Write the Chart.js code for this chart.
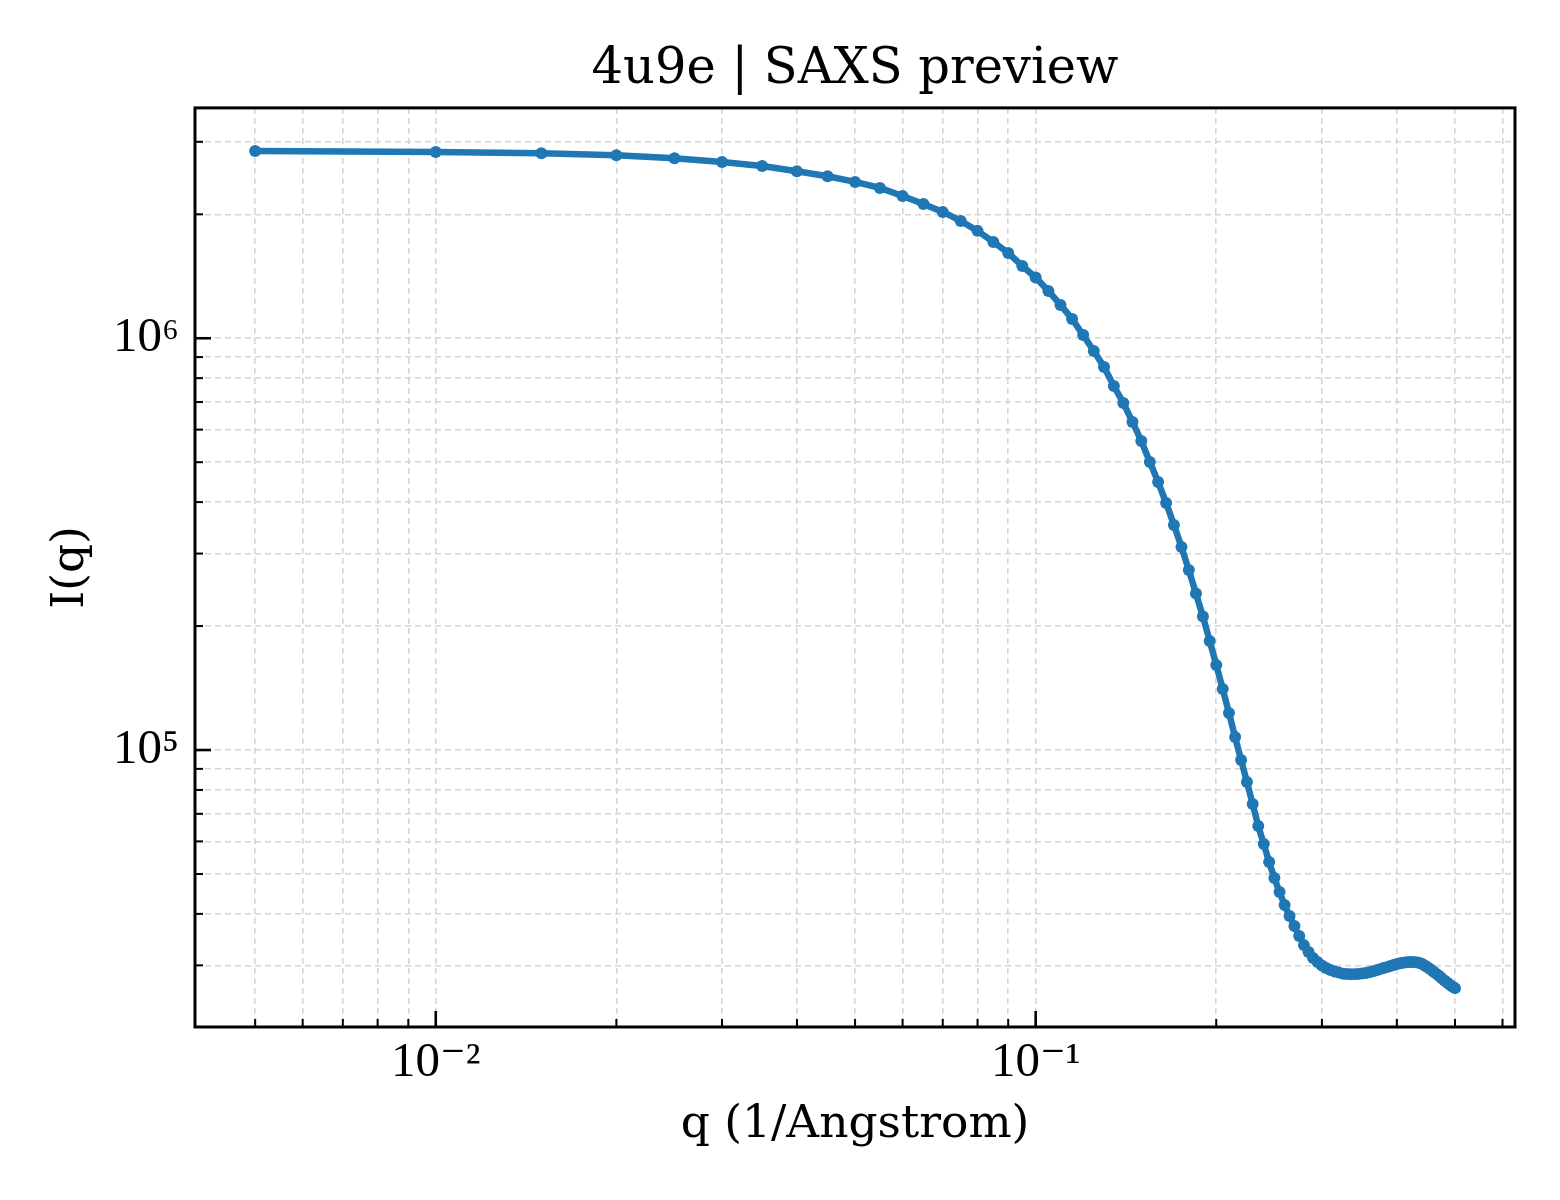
<!DOCTYPE html>
<html>
<head>
<meta charset="utf-8">
<script src="https://cdn.jsdelivr.net/npm/chart.js@4.4.0/dist/chart.umd.min.js"></script>
<style>
  html, body { margin: 0; padding: 0; background: #fff; }
  canvas { display: block; }
</style>
</head>
<body>
<canvas id="saxs" width="1560" height="1200"></canvas>
<script>
const qValues = [
  0.005, 0.010, 0.015, 0.020, 0.025, 0.030, 0.035, 0.040, 0.045, 0.050,
  0.055, 0.060, 0.065, 0.070, 0.075, 0.080, 0.085, 0.090, 0.095, 0.100,
  0.105, 0.110, 0.115, 0.120, 0.125, 0.130, 0.135, 0.140, 0.145, 0.150,
  0.155, 0.160, 0.165, 0.170, 0.175, 0.180, 0.185, 0.190, 0.195, 0.200,
  0.205, 0.210, 0.215, 0.220, 0.225, 0.230, 0.235, 0.240, 0.245, 0.250,
  0.255, 0.260, 0.265, 0.270, 0.275, 0.280, 0.285, 0.290, 0.295, 0.300,
  0.305, 0.310, 0.315, 0.320, 0.325, 0.330, 0.335, 0.340, 0.345, 0.350,
  0.355, 0.360, 0.365, 0.370, 0.375, 0.380, 0.385, 0.390, 0.395, 0.400,
  0.405, 0.410, 0.415, 0.420, 0.425, 0.430, 0.435, 0.440, 0.445, 0.450,
  0.455, 0.460, 0.465, 0.470, 0.475, 0.480, 0.485, 0.490, 0.495, 0.500
];
const intensity = [
  2850000, 2835000, 2814000, 2782000, 2736000, 2680000, 2621000, 2544000, 2474000, 2397000,
  2318000, 2216000, 2119000, 2027000, 1927000, 1823000, 1714000, 1611000, 1498000, 1405000,
  1303000, 1205000, 1114000, 1018000, 931500, 851800, 765700, 696500, 626200, 563000,
  500600, 447700, 398100, 352100, 311200, 273700, 239900, 211000, 184000, 160900,
  140700, 123000, 107500, 94560, 83620, 73930, 65370, 59100, 53460, 48870,
  45190, 42020, 39530, 37370, 35340, 33590, 32310, 31240, 30550, 29960,
  29540, 29210, 28970, 28810, 28640, 28570, 28560, 28560, 28600, 28670,
  28750, 28870, 29040, 29200, 29370, 29540, 29700, 29870, 30040, 30210,
  30350, 30450, 30520, 30560, 30560, 30520, 30420, 30250, 29960, 29660,
  29340, 29000, 28640, 28290, 27930, 27570, 27240, 26920, 26640, 26410
];

// axis ticks
const xMajorTicks = [0.01, 0.1];
const xMajorLabels = ['10⁻²', '10⁻¹'];
const xMinorTicks = [0.005, 0.006, 0.007, 0.008, 0.009,
  0.02, 0.03, 0.04, 0.05, 0.06, 0.07, 0.08, 0.09,
  0.2, 0.3, 0.4, 0.5, 0.6];
const yMajorTicks = [1e5, 1e6];
const yMajorLabels = ['10⁵', '10⁶'];
const yMinorTicks = [3e4, 4e4, 5e4, 6e4, 7e4, 8e4, 9e4,
  2e5, 3e5, 4e5, 5e5, 6e5, 7e5, 8e5, 9e5,
  2e6, 3e6];

const X_MIN = 0.003969, X_MAX = 0.6295;
const Y_MIN = 21250, Y_MAX = 3626000;

const serif = "'DejaVu Serif', 'Liberation Serif', serif";
const mathSerif = "'Liberation Serif', 'DejaVu Serif', serif";
const blue = '#1f77b4';

function buildTicks(majors, minors) {
  const list = majors.map(v => ({ value: v, major: true }))
    .concat(minors.map(v => ({ value: v, major: false })));
  return list.sort((a, b) => a.value - b.value);
}

function labelFor(v, majors, labels) {
  const i = majors.findIndex(m => Math.abs(m - v) / m < 1e-9);
  return i >= 0 ? labels[i] : '';
}

// matplotlib-like inward ticks + full box frame
const frameTicks = {
  id: 'frameTicks',
  afterDraw(chart) {
    const { ctx, chartArea: a, scales } = chart;
    const x = scales.x, y = scales.y;
    ctx.save();
    ctx.strokeStyle = '#000';
    x.ticks.forEach(t => {
      const px = x.getPixelForValue(t.value);
      ctx.lineWidth = t.major ? 2.6 : 2;
      ctx.beginPath();
      ctx.moveTo(px, a.bottom);
      ctx.lineTo(px, a.bottom - (t.major ? 16 : 8));
      ctx.stroke();
    });
    y.ticks.forEach(t => {
      const py = y.getPixelForValue(t.value);
      ctx.lineWidth = t.major ? 2.6 : 2;
      ctx.beginPath();
      ctx.moveTo(a.left, py);
      ctx.lineTo(a.left + (t.major ? 16 : 8), py);
      ctx.stroke();
    });
    ctx.lineWidth = 3;
    ctx.strokeRect(a.left, a.top, a.right - a.left, a.bottom - a.top);
    ctx.restore();
  }
};

new Chart(document.getElementById('saxs'), {
  type: 'line',
  data: {
    datasets: [{
      label: 'I(q)',
      data: qValues.map((q, i) => ({ x: q, y: intensity[i] })),
      borderColor: blue,
      backgroundColor: blue,
      borderWidth: 6.5,
      pointRadius: 6,
      pointBorderWidth: 0,
      pointBackgroundColor: blue,
      tension: 0
    }]
  },
  options: {
    responsive: false,
    devicePixelRatio: 1,
    animation: false,
    layout: { padding: { left: 0, right: 45, top: 0, bottom: 0 } },
    plugins: {
      legend: { display: false },
      tooltip: { enabled: false },
      title: {
        display: true,
        text: '4u9e | SAXS preview',
        fullSize: false,
        color: '#000',
        font: { family: serif, size: 49.5, weight: 'normal' },
        padding: { top: 40, bottom: 8.5 }
      }
    },
    scales: {
      x: {
        type: 'logarithmic',
        min: X_MIN,
        max: X_MAX,
        afterBuildTicks: s => { s.ticks = buildTicks(xMajorTicks, xMinorTicks); },
        afterFit: s => { s.height = 173; },
        ticks: {
          autoSkip: false,
          maxRotation: 0,
          padding: 7,
          color: '#000',
          font: { family: mathSerif, size: 49 },
          callback: v => labelFor(v, xMajorTicks, xMajorLabels)
        },
        grid: { color: '#d5d5d5', lineWidth: 1.6, drawTicks: false },
        border: { display: false, dash: [6, 4] },
        title: {
          display: true,
          text: 'q (1/Angstrom)',
          color: '#000',
          font: { family: serif, size: 45.5 },
          padding: { top: 0, bottom: 47.5 }
        }
      },
      y: {
        type: 'logarithmic',
        min: Y_MIN,
        max: Y_MAX,
        afterBuildTicks: s => { s.ticks = buildTicks(yMajorTicks, yMinorTicks); },
        afterFit: s => { s.width = 195; },
        ticks: {
          autoSkip: false,
          padding: 16,
          color: '#000',
          font: { family: mathSerif, size: 49 },
          callback: v => labelFor(v, yMajorTicks, yMajorLabels)
        },
        grid: { color: '#d5d5d5', lineWidth: 1.6, drawTicks: false },
        border: { display: false, dash: [6, 4] },
        title: {
          display: true,
          text: 'I(q)',
          color: '#000',
          font: { family: serif, size: 45.5 },
          padding: { top: 43.5, bottom: 0 }
        }
      }
    }
  },
  plugins: [frameTicks]
});
</script>
</body>
</html>
